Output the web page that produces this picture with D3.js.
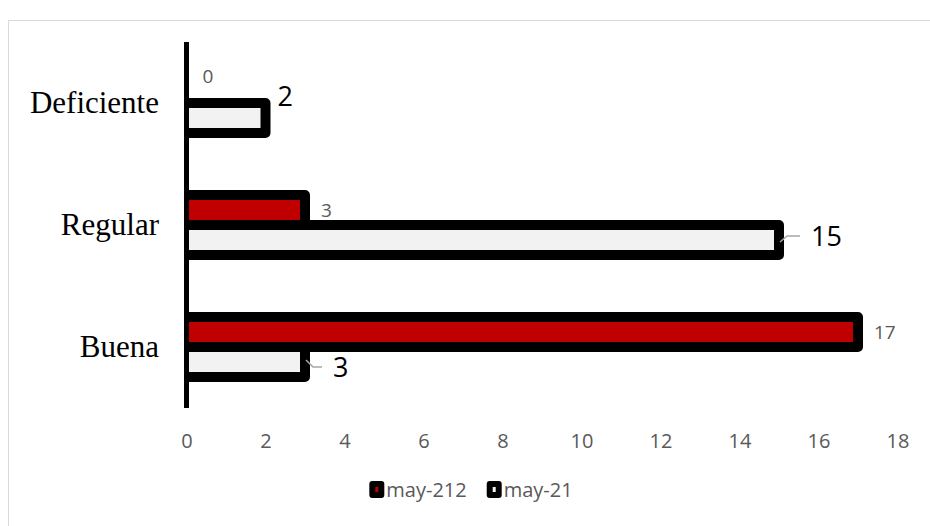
<!DOCTYPE html>
<html>
<head>
<meta charset="utf-8">
<script src="https://cdnjs.cloudflare.com/ajax/libs/d3/7.8.5/d3.min.js"></script>
<style>
  body { margin: 0; background: #fff; }
  svg { display: block; }
</style>
</head>
<body>
<svg id="chart" width="930" height="526"></svg>
<script>
// categories top to bottom, two series per category
var categories = ["Deficiente", "Regular", "Buena"];
var seriesNames = ["may-212", "may-21"];
var may212 = [0, 3, 17];
var may21 = [2, 15, 3];
var xTicks = [0, 2, 4, 6, 8, 10, 12, 14, 16, 18];

var svg = d3.select("#chart"),
    width = 930,
    height = 526,
    barH = 30;

var colors = ["#c00000", "#f2f2f2"];

// chart frame (runs off the right and bottom edge)
svg.append("rect")
    .attr("x", 8.5).attr("y", 20.5)
    .attr("width", 960).attr("height", 560)
    .attr("fill", "none")
    .attr("stroke", "#d9d9d9")
    .attr("stroke-width", 1);

var x = d3.scaleLinear().domain([0, 18]).range([186.5, 897.5]);
var y = d3.scaleBand().domain(categories).range([42, 408]);

var rows = categories.map(function(c, i) {
  return {cat: c, vals: [may212[i], may21[i]]};
});

// bars; the left stroke sits behind the axis and gets masked
var row = svg.append("g").selectAll("g")
  .data(rows)
  .enter().append("g");

row.selectAll("rect")
  .data(function(d) { return d.vals.map(function(v, s) { return {cat: d.cat, v: v, s: s}; }); })
  .enter().filter(function(d) { return d.v > 0; }).append("rect")
    .attr("x", x(0) - 5)
    .attr("y", function(d) { return y(d.cat) + y.bandwidth() / 2 - barH + d.s * barH; })
    .attr("width", function(d) { return x(d.v) - x(0) + 5; })
    .attr("height", barH)
    .attr("fill", function(d) { return colors[d.s]; })
    .attr("stroke", "#000")
    .attr("stroke-width", 10)
    .attr("stroke-linejoin", "round");

svg.append("rect")
    .attr("x", x(0) - 14).attr("y", 42)
    .attr("width", 12).attr("height", 366)
    .attr("fill", "#fff");

// vertical category axis line
svg.append("line")
    .attr("x1", x(0)).attr("x2", x(0))
    .attr("y1", 42).attr("y2", 408)
    .attr("stroke", "#000")
    .attr("stroke-width", 5);

// category labels
svg.append("g").selectAll("text")
  .data(categories)
  .enter().append("text")
    .attr("x", 159)
    .attr("y", function(d) { return y(d) + y.bandwidth() / 2 + 10; })
    .attr("text-anchor", "end")
    .style("font-family", "'Liberation Serif', 'Times New Roman', serif")
    .style("font-size", "31px")
    .attr("fill", "#000")
    .text(function(d) { return d; });

// x axis labels
var xAxis = d3.axisBottom(x).tickValues(xTicks).tickSize(0).tickPadding(3);
var gx = svg.append("g")
    .attr("transform", "translate(0,431)")
    .call(xAxis);
gx.select(".domain").remove();
gx.selectAll("text")
    .style("font-family", "'Open Sans', sans-serif")
    .style("font-size", "20px")
    .attr("fill", "#595959");

// data labels; some were dragged by hand in the original
var nudge = {
  "may-212|Deficiente": [0, -12],
  "may-21|Deficiente": [0, -22],
  "may-21|Regular": [20, -4],
  "may-21|Buena": [16, 5]
};
var leaders = {"may-21|Regular": true, "may-21|Buena": true};

var labels = [];
rows.forEach(function(r) {
  r.vals.forEach(function(v, s) {
    labels.push({cat: r.cat, v: v, s: s, key: seriesNames[s] + "|" + r.cat});
  });
});

labels.forEach(function(d) {
  var cy = y(d.cat) + y.bandwidth() / 2 - barH / 2 + d.s * barH;
  var n = nudge[d.key] || [0, 0];
  var lx = x(d.v) + (d.s === 0 ? 16 : 12) + n[0];
  var ly = cy + n[1];
  if (leaders[d.key]) {
    var dir = n[1] < 0 ? -1 : 1;
    svg.append("polyline")
        .attr("points", [[x(d.v) + 1, cy - dir * 2], [x(d.v) + 8, ly], [lx - 11, ly]].join(" "))
        .attr("fill", "none")
        .attr("stroke", "#a6a6a6")
        .attr("stroke-width", 1.5);
  }
  svg.append("text")
      .attr("x", lx)
      .attr("y", ly)
      .attr("dy", "0.36em")
      .style("font-family", "'Open Sans', sans-serif")
      .style("font-size", d.s === 0 ? "19px" : "27px")
      .attr("fill", d.s === 0 ? "#595959" : "#000")
      .text(d.v);
});

// legend
var legend = svg.append("g");
var lx0 = 0;
seriesNames.forEach(function(name, i) {
  var item = legend.append("g").attr("transform", "translate(" + lx0 + ",0)");
  item.append("rect")
      .attr("x", 3).attr("y", -7)
      .attr("width", 9).attr("height", 11)
      .attr("fill", colors[i])
      .attr("stroke", "#000")
      .attr("stroke-width", 6)
      .attr("stroke-linejoin", "round");
  var t = item.append("text")
      .attr("x", 17)
      .attr("y", 6)
      .style("font-family", "'Open Sans', sans-serif")
      .style("font-size", "20px")
      .attr("fill", "#595959")
      .text(name);
  lx0 += 17 + t.node().getComputedTextLength() + 20;
});
var lw = lx0 - 20;
legend.attr("transform", "translate(" + (471 - lw / 2) + ",491)");
</script>
</body>
</html>
